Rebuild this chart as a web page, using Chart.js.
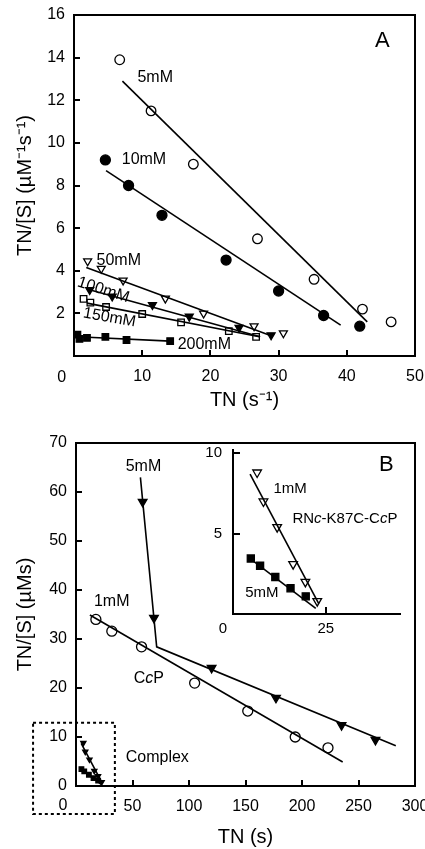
<!DOCTYPE html>
<html>
<head>
<meta charset="utf-8">
<script src="https://cdn.jsdelivr.net/npm/chart.js@4.4.0/dist/chart.umd.min.js"></script>
<style>
  html, body { margin: 0; padding: 0; background: #fff; }
  #wrap { position: relative; width: 425px; height: 849px; overflow: hidden; }
  canvas { position: absolute; }
</style>
</head>
<body>
<div id="wrap">
  <canvas id="chartA" width="425" height="425" style="left:0;top:0;width:425px;height:425px"></canvas>
  <canvas id="chartB" width="425" height="424" style="left:0;top:425px;width:425px;height:424px"></canvas>
  <canvas id="inset" width="225" height="200" style="left:190px;top:440px;width:225px;height:200px"></canvas>
</div>
<script>
// ---- panel A data (TN vs TN/[S]) ----
const a5x = [6.7, 11.3, 17.5, 26.9, 35.2, 42.3, 46.5];
const a5y = [13.9, 11.5, 9.0, 5.5, 3.6, 2.2, 1.6];
const a5fitX = [7.1, 43.0];
const a5fitY = [12.9, 1.6];

const a10x = [4.6, 8.0, 12.9, 22.3, 30.0, 36.6, 41.9];
const a10y = [9.2, 8.0, 6.6, 4.5, 3.05, 1.9, 1.4];
const a10fitX = [4.7, 39.1];
const a10fitY = [8.7, 1.45];

const a50x = [2.0, 4.0, 7.2, 13.4, 19.0, 26.4, 30.7];
const a50y = [4.45, 4.1, 3.55, 2.7, 2.0, 1.4, 1.07];
const a50fitX = [1.8, 28.6];
const a50fitY = [4.15, 0.99];

const a100x = [2.3, 5.6, 11.5, 16.9, 24.2, 28.9];
const a100y = [3.1, 2.8, 2.4, 1.85, 1.33, 0.98];
const a100fitX = [2.4, 27.3];
const a100fitY = [3.1, 0.9];

const a150x = [1.4, 2.4, 4.7, 10.0, 15.7, 22.7, 26.7];
const a150y = [2.68, 2.5, 2.3, 1.97, 1.58, 1.17, 0.9];
const a150fitX = [1.9, 27.2];
const a150fitY = [2.48, 0.9];

const a200x = [0.5, 0.8, 1.9, 4.6, 7.7, 14.1];
const a200y = [1.0, 0.8, 0.85, 0.9, 0.75, 0.7];
const a200fitX = [0.5, 14.1];
const a200fitY = [0.9, 0.7];

const xTicksA = [0, 10, 20, 30, 40, 50];
const yTicksA = [2, 4, 6, 8, 10, 12, 14, 16];

// ---- panel B data (CcP) ----
const b1x = [17.6, 31.7, 58, 105, 152, 194, 223];
const b1y = [34, 31.6, 28.4, 21, 15.3, 10, 7.8];
const b1fitX = [12.3, 236];
const b1fitY = [34.9, 4.9];

const b5x = [59, 69, 120, 177, 235, 265];
const b5y = [58, 34.3, 24.1, 18, 12.4, 9.4];
const b5fitX = [57, 71.4, 283];
const b5fitY = [63, 28.4, 8.2];

const xTicksB = [0, 50, 100, 150, 200, 250, 300];
const yTicksB = [0, 10, 20, 30, 40, 50, 60, 70];

// ---- inset data (RNc-K87C-CcP complex) ----
const i1x = [6.5, 8.2, 11.9, 16.2, 19.5, 22.7];
const i1y = [8.8, 7.0, 5.4, 3.1, 2.0, 0.8];
const i1fitX = [4.6, 23.1];
const i1fitY = [8.7, 0.65];

const i5x = [4.8, 7.3, 11.4, 15.5, 19.6];
const i5y = [3.45, 3.0, 2.3, 1.6, 1.1];
const i5fitX = [4.6, 22.3];
const i5fitY = [3.45, 0.35];

const xTicksI = [25];
const yTicksI = [5, 10];

// text notes, in data units of each panel ("_" toggles italic)
const notesA = [
  { t: '5mM', x: 9.3, y: 13.05 },
  { t: '10mM', x: 7.0, y: 9.2 },
  { t: '50mM', x: 3.3, y: 4.5 },
  { t: '100mM', x: 4.3, y: 3.1, rot: 18, align: 'center' },
  { t: '150mM', x: 5.2, y: 1.8, rot: 10, align: 'center' },
  { t: '200mM', x: 15.2, y: 0.52 },
  { t: 'A', x: 45.2, y: 14.8, size: 22, align: 'center' },
  { t: '0', x: -1.8, y: -1.0, align: 'center' }
];
const notesB = [
  { t: '5mM', x: 44, y: 65.1 },
  { t: '1mM', x: 15.9, y: 37.6 },
  { t: 'C_c_P', x: 51, y: 22 },
  { t: 'Complex', x: 44, y: 5.7 },
  { t: '0', x: -11.5, y: -4.1, align: 'center' }
];
const notesI = [
  { t: '1mM', x: 10.9, y: 7.8, size: 15 },
  { t: 'RN_c_-K87C-C_c_P', x: 16, y: 5.9, size: 15 },
  { t: '5mM', x: 3.3, y: 1.3, size: 15 },
  { t: 'B', x: 41.3, y: 9.3, size: 22, align: 'center' },
  { t: '0', x: -2.7, y: -0.93, size: 15, align: 'center' }
];
const boxB = { x0: -38, x1: 34.4, y0: -5.7, y1: 12.9 };

const FONT = "'Liberation Sans', Arial, sans-serif";

function pts(xs, ys) {
  return xs.map((x, i) => ({ x: x, y: ys[i] }));
}

function marks(xs, ys, style, filled, r) {
  return {
    data: pts(xs, ys),
    pointStyle: style,
    rotation: style === 'triangle' ? 180 : 0,
    pointRadius: r,
    pointBackgroundColor: filled ? '#000' : 'rgba(0,0,0,0)',
    pointBorderColor: '#000',
    pointBorderWidth: 1.3,
    showLine: false
  };
}

function fit(xs, ys) {
  return {
    data: pts(xs, ys),
    showLine: true,
    pointRadius: 0,
    borderColor: '#000',
    borderWidth: 1.6
  };
}

function axis(o) {
  return {
    type: 'linear',
    min: o.min,
    max: o.max,
    afterBuildTicks: s => { s.ticks = o.ticks.map(v => ({ value: v })); },
    afterFit: s => {
      if (o.w) s.width = o.w;
      if (o.h) s.height = o.h;
      // keep tick labels from pushing the plot area inwards
      s.paddingLeft = s.paddingRight = s.paddingTop = s.paddingBottom = 0;
    },
    grid: { drawOnChartArea: false, drawTicks: true, tickLength: -o.tl, color: '#000', lineWidth: 2 },
    border: { color: '#000', width: 2 },
    ticks: {
      color: '#000',
      padding: o.pad,
      maxRotation: 0,
      autoSkip: false,
      font: { family: FONT, size: o.size || 16 },
      callback: v => (v === 0 && o.hideZero) ? '' : String(v)
    },
    title: o.title ? {
      display: true,
      text: o.title,
      color: '#000',
      font: { family: FONT, size: 20, lineHeight: 1.2 },
      padding: o.titlePad
    } : { display: false }
  };
}

const notesPlugin = {
  id: 'notes',
  afterDatasetsDraw(chart, args, opts) {
    const ctx = chart.ctx, xs = chart.scales.x, ys = chart.scales.y;
    (opts.items || []).forEach(n => {
      const px = xs.getPixelForValue(n.x), py = ys.getPixelForValue(n.y);
      const size = n.size || 16;
      const parts = n.t.split('_');
      const fontOf = i => (i % 2 ? 'italic ' : '') + size + 'px ' + FONT;
      ctx.save();
      ctx.translate(px, py);
      ctx.rotate((n.rot || 0) * Math.PI / 180);
      ctx.fillStyle = '#000';
      ctx.textBaseline = 'middle';
      ctx.textAlign = 'left';
      const widths = parts.map((p, i) => { ctx.font = fontOf(i); return ctx.measureText(p).width; });
      const total = widths.reduce((a, b) => a + b, 0);
      let cx = n.align === 'center' ? -total / 2 : 0;
      parts.forEach((p, i) => { ctx.font = fontOf(i); ctx.fillText(p, cx, 0); cx += widths[i]; });
      ctx.restore();
    });
  }
};

const framePlugin = {
  id: 'frame',
  afterDraw(chart, args, opts) {
    const ctx = chart.ctx, a = chart.chartArea;
    ctx.save();
    ctx.strokeStyle = '#000';
    if (opts.full) {
      ctx.lineWidth = 2;
      ctx.strokeRect(a.left, a.top, a.right - a.left, a.bottom - a.top);
    }
    if (opts.box) {
      const xs = chart.scales.x, ys = chart.scales.y, b = opts.box;
      const x0 = xs.getPixelForValue(b.x0), x1 = xs.getPixelForValue(b.x1);
      const y0 = ys.getPixelForValue(b.y0), y1 = ys.getPixelForValue(b.y1);
      ctx.lineWidth = 2;
      ctx.setLineDash([3, 3]);
      ctx.strokeRect(x0, y1, x1 - x0, y0 - y1);
    }
    ctx.restore();
  }
};

const baseOpts = {
  responsive: false,
  animation: false,
  events: []
};

new Chart(document.getElementById('chartA'), {
  type: 'scatter',
  data: {
    datasets: [
      fit(a5fitX, a5fitY), fit(a10fitX, a10fitY), fit(a50fitX, a50fitY),
      fit(a100fitX, a100fitY), fit(a150fitX, a150fitY), fit(a200fitX, a200fitY),
      marks(a5x, a5y, 'circle', false, 4.8),
      marks(a10x, a10y, 'circle', true, 5),
      marks(a50x, a50y, 'triangle', false, 4.6),
      marks(a100x, a100y, 'triangle', true, 4.6),
      marks(a150x, a150y, 'rect', false, 4.6),
      marks(a200x, a200y, 'rect', true, 4.6)
    ]
  },
  options: Object.assign({}, baseOpts, {
    layout: { padding: { top: 15, right: 10, left: 0, bottom: 0 } },
    plugins: { legend: { display: false }, tooltip: { enabled: false }, notes: { items: notesA }, frame: { full: true } },
    scales: {
      x: axis({ min: 0, max: 50, ticks: xTicksA, h: 69, tl: 6, pad: 17, hideZero: true,
                title: 'TN (s\u207B\u00B9)', titlePad: { top: 0, bottom: 13 } }),
      y: axis({ min: 0, max: 16, ticks: yTicksA, w: 74, tl: 6, pad: 15,
                title: 'TN/[S] (\u00B5M\u207B\u00B9s\u207B\u00B9)', titlePad: { top: 13, bottom: 0 } })
    }
  }),
  plugins: [notesPlugin, framePlugin]
});

new Chart(document.getElementById('chartB'), {
  type: 'scatter',
  data: {
    datasets: [
      fit(b1fitX, b1fitY), fit(b5fitX, b5fitY),
      fit(i1fitX, i1fitY), fit(i5fitX, i5fitY),
      marks(b1x, b1y, 'circle', false, 5),
      marks(b5x, b5y, 'triangle', true, 5),
      marks(i1x, i1y, 'triangle', true, 3),
      marks(i5x, i5y, 'rect', true, 3.2)
    ]
  },
  options: Object.assign({}, baseOpts, {
    layout: { padding: { top: 18, right: 10, left: 0, bottom: 0 } },
    plugins: { legend: { display: false }, tooltip: { enabled: false }, notes: { items: notesB }, frame: { full: true, box: boxB } },
    scales: {
      x: axis({ min: 0, max: 300, ticks: xTicksB, h: 63, tl: 6, pad: 17, hideZero: true,
                title: 'TN (s)', titlePad: { top: 0, bottom: 0 } }),
      y: axis({ min: 0, max: 70, ticks: yTicksB, w: 76, tl: 6, pad: 15,
                title: 'TN/[S] (\u00B5Ms)', titlePad: { top: 13, bottom: 0 } })
    }
  }),
  plugins: [notesPlugin, framePlugin]
});

new Chart(document.getElementById('inset'), {
  type: 'scatter',
  data: {
    datasets: [
      fit(i1fitX, i1fitY), fit(i5fitX, i5fitY),
      marks(i1x, i1y, 'triangle', false, 5),
      marks(i5x, i5y, 'rect', true, 5)
    ]
  },
  options: Object.assign({}, baseOpts, {
    layout: { padding: { top: 10, right: 15, left: 0, bottom: 0 } },
    plugins: { legend: { display: false }, tooltip: { enabled: false }, notes: { items: notesI }, frame: {} },
    scales: {
      x: axis({ min: 0, max: 45, ticks: xTicksI, h: 26, tl: 7, pad: 13, size: 15 }),
      y: axis({ min: 0, max: 10.2, ticks: yTicksI, w: 43, tl: 7, pad: 18, size: 15 })
    }
  }),
  plugins: [notesPlugin, framePlugin]
});
</script>
</body>
</html>
